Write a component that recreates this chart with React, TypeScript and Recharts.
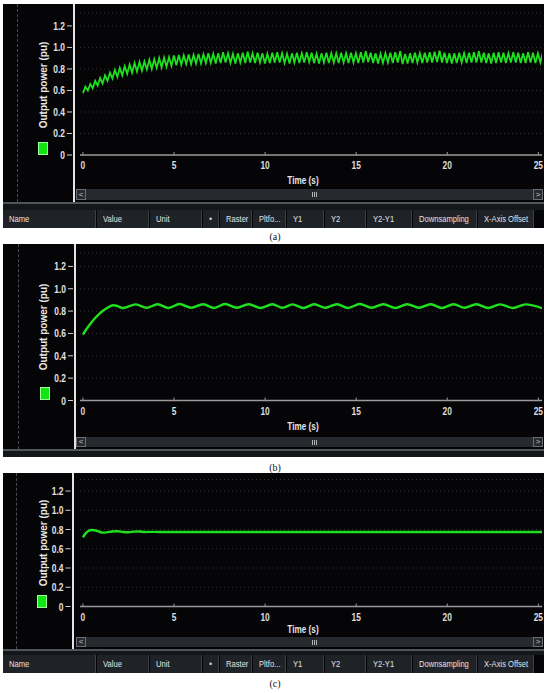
import React from "react";
import { LineChart, Line, XAxis, YAxis, CartesianGrid } from "recharts";

const yTicks = [0, 0.2, 0.4, 0.6, 0.8, 1.0, 1.2];
const xTicks = [0, 5, 10, 15, 20, 25];
const columns = ["Name", "Value", "Unit", "•", "Raster", "Pltfo...", "Y1", "Y2", "Y2-Y1", "Downsampling", "X-Axis Offset"];

// (a) read every 0.135 s, alternating trough / peak of the ripple
const aStep = 0.135;
const aPower = [
  0.575, 0.635, 0.6, 0.66, 0.62, 0.69, 0.645, 0.715, 0.665, 0.74,
  0.69, 0.765, 0.71, 0.79, 0.725, 0.81, 0.74, 0.825, 0.755, 0.84,
  0.765, 0.855, 0.775, 0.865, 0.785, 0.87, 0.795, 0.885, 0.8, 0.89,
  0.81, 0.9, 0.815, 0.905, 0.82, 0.91, 0.83, 0.925, 0.835, 0.93,
  0.84, 0.925, 0.845, 0.935, 0.845, 0.93, 0.85, 0.94, 0.85, 0.935,
  0.855, 0.945, 0.855, 0.94, 0.85, 0.945, 0.855, 0.955, 0.86, 0.945,
  0.855, 0.94, 0.85, 0.945, 0.86, 0.95, 0.855, 0.96, 0.86, 0.945,
  0.855, 0.95, 0.86, 0.945, 0.85, 0.94, 0.855, 0.95, 0.86, 0.955,
  0.86, 0.945, 0.855, 0.94, 0.85, 0.945, 0.86, 0.95, 0.855, 0.945,
  0.86, 0.955, 0.865, 0.95, 0.855, 0.94, 0.85, 0.945, 0.86, 0.95,
  0.855, 0.945, 0.86, 0.945, 0.855, 0.95, 0.86, 0.945, 0.855, 0.95,
  0.86, 0.945, 0.855, 0.955, 0.86, 0.965, 0.865, 0.95, 0.855, 0.945,
  0.85, 0.94, 0.855, 0.945, 0.86, 0.95, 0.855, 0.955, 0.86, 0.965,
  0.845, 0.94, 0.85, 0.945, 0.855, 0.95, 0.86, 0.945, 0.855, 0.95,
  0.86, 0.955, 0.86, 0.96, 0.865, 0.97, 0.86, 0.95, 0.855, 0.945,
  0.85, 0.945, 0.855, 0.95, 0.86, 0.945, 0.855, 0.95, 0.86, 0.955,
  0.86, 0.965, 0.86, 0.95, 0.855, 0.945, 0.85, 0.95, 0.855, 0.955,
  0.86, 0.95, 0.855, 0.945, 0.86, 0.955, 0.86, 0.95, 0.855, 0.945,
  0.855, 0.955, 0.86, 0.95, 0.855, 0.945, 0.86, 0.95
];

// (b) rise, then peaks / troughs of the slow oscillation
const bTime = [
  0, 0.2, 0.4, 0.6, 0.8, 1.0, 1.2, 1.4, 1.65, 1.85,
  2.2, 2.9, 3.5, 4.1, 4.7, 5.3, 5.95, 6.6, 7.2, 7.8,
  8.45, 9.1, 9.75, 10.4, 10.95, 11.5, 12.1, 12.7, 13.3, 13.95,
  14.55, 15.2, 15.85, 16.5, 17.15, 17.8, 18.45, 19.1, 19.7, 20.35,
  20.95, 21.6, 22.25, 22.9, 23.6, 24.3, 25.2
];
const bPower = [
  0.59, 0.64, 0.685, 0.725, 0.76, 0.79, 0.815, 0.835, 0.852, 0.848,
  0.828, 0.86, 0.83, 0.862, 0.828, 0.863, 0.83, 0.862, 0.828, 0.863,
  0.83, 0.862, 0.828, 0.862, 0.83, 0.86, 0.828, 0.862, 0.83, 0.862,
  0.828, 0.863, 0.83, 0.862, 0.828, 0.862, 0.83, 0.862, 0.828, 0.862,
  0.83, 0.862, 0.828, 0.86, 0.828, 0.86, 0.826
];

// (c) small overshoot, then flat
const cTime = [0, 0.15, 0.3, 0.5, 0.7, 0.9, 1.1, 1.3, 1.6, 1.9, 2.2, 2.5, 2.8, 3.1, 3.4, 3.8, 4.2, 5, 10, 15, 20, 25.2];
const cPower = [0.72, 0.76, 0.785, 0.795, 0.79, 0.777, 0.768, 0.77, 0.78, 0.782, 0.775, 0.772, 0.778, 0.779, 0.775, 0.776, 0.775, 0.775, 0.775, 0.775, 0.775, 0.775];

const aData = aPower.map((p, i) => ({ t: i * aStep, p }));
const bData = bTime.map((t, i) => ({ t, p: bPower[i] }));
const cData = cTime.map((t, i) => ({ t, p: cPower[i] }));

const uiFont = "'Liberation Sans', Arial, sans-serif";
const green = "#1fe01f";
const colEdges = [3, 97, 150, 203, 220, 253, 287, 325, 367, 413, 478, 535, 544];

type Spec = {
  top: number;
  bottom: number;
  axisX: number;
  dotX: number;
  plotTop: number;
  zeroY: number;
  scrollTop: number;
  scrollBottom: number;
  header?: number;
  legend: [number, number];
  labelY: number;
  timeY: number;
  captionY: number;
  caption: string;
  lineType: "linear" | "monotone";
  strokeWidth: number;
};

const specA: Spec = {
  top: 4, bottom: 228, axisX: 74, dotX: 17, plotTop: 13, zeroY: 155,
  scrollTop: 189, scrollBottom: 200, header: 210, legend: [38, 142],
  labelY: 85, timeY: 180, captionY: 236, caption: "(a)", lineType: "linear", strokeWidth: 1.8
};
const specB: Spec = {
  top: 244, bottom: 457, axisX: 75, dotX: 18, plotTop: 253, zeroY: 400.5,
  scrollTop: 437, scrollBottom: 447, legend: [40, 387],
  labelY: 327, timeY: 426, captionY: 467, caption: "(b)", lineType: "monotone", strokeWidth: 2.4
};
const specC: Spec = {
  top: 473, bottom: 673, axisX: 72.5, dotX: 16, plotTop: 479.5, zeroY: 606.5,
  scrollTop: 637, scrollBottom: 647, header: 655, legend: [37, 595],
  labelY: 543, timeY: 629, captionY: 683, caption: "(c)", lineType: "monotone", strokeWidth: 2.4
};

const XTick = (props: any) => {
  const { x, y, payload } = props;
  return (
    <g>
      <line x1={x} x2={x} y1={y - 3} y2={y} stroke="#9a9a9a" />
      <text
        transform={`translate(${x},${y + 14}) scale(0.8,1)`}
        textAnchor="middle"
        fill="#dedede"
        fontSize={10.5}
        fontWeight="bold"
        fontFamily={uiFont}
      >
        {payload.value}
      </text>
    </g>
  );
};

const YTick = (props: any) => {
  const { y, payload, axisX } = props;
  const v = payload.value;
  return (
    <g>
      <line x1={axisX - 7} x2={axisX - 2} y1={y} y2={y} stroke="#cfcfcf" />
      <text
        transform={`translate(${axisX - 9},${y + 4}) scale(0.8,1)`}
        textAnchor="end"
        fill="#e2e2e2"
        fontSize={10.5}
        fontWeight="bold"
        fontFamily={uiFont}
      >
        {v === 0 ? "0" : v.toFixed(1)}
      </text>
    </g>
  );
};

const abs = (s: React.CSSProperties): React.CSSProperties => ({ position: "absolute", ...s });

const Narrow = ({ children, origin = "left center", k = 0.82 }: { children: React.ReactNode; origin?: string; k?: number }) => (
  <span style={{ display: "inline-block", transform: `scaleX(${k})`, transformOrigin: origin }}>{children}</span>
);

function Panel({ spec, data }: { spec: Spec; data: { t: number; p: number }[] }) {
  const h = spec.bottom - spec.top;
  const sideH = spec.scrollBottom + 2 - spec.top;
  const bandTop = spec.scrollBottom + 2;
  const sh = spec.scrollBottom - spec.scrollTop;
  return (
    <>
      <div style={abs({ left: 3, top: spec.top, width: 541, height: h, background: "#050507" })} />
      <div style={abs({ left: spec.dotX, top: spec.top, width: 0, height: sideH, borderLeft: "1px dashed #4a4a4a" })} />
      <div style={abs({ left: spec.axisX - 1, top: spec.top, width: 2, height: sideH, background: "#e4e4e4" })} />
      <div
        style={abs({
          left: 43,
          top: spec.labelY,
          transform: "translate(-50%, -50%) rotate(-90deg)",
          whiteSpace: "nowrap",
          color: "#e6e6e6",
          fontFamily: uiFont,
          fontWeight: "bold",
          fontSize: 10
        })}
      >
        Output power (pu)
      </div>
      <div
        style={abs({
          left: spec.legend[0],
          top: spec.legend[1],
          width: 8,
          height: 11,
          background: "#12e612",
          border: "1px solid #9dff9d"
        })}
      />
      <div style={abs({ left: 0, top: spec.top })}>
        <LineChart
          width={550}
          height={h}
          data={data}
          margin={{ top: spec.plotTop - spec.top, right: 8, bottom: spec.bottom - spec.zeroY - 1, left: 79 }}
        >
          <CartesianGrid vertical={false} stroke="#333" strokeDasharray="1 3" />
          <XAxis
            type="number"
            dataKey="t"
            domain={[-0.16, 25.2]}
            ticks={xTicks}
            interval={0}
            height={1}
            tickSize={0}
            tickMargin={0}
            allowDataOverflow
            axisLine={{ stroke: "#9a9a9a", strokeWidth: 1.5 }}
            tickLine={false}
            tick={XTick}
          />
          <YAxis
            type="number"
            domain={[0, 1.32]}
            ticks={yTicks}
            interval={0}
            width={1}
            tickSize={0}
            tickMargin={0}
            allowDataOverflow
            axisLine={false}
            tickLine={false}
            tick={(p: any) => <YTick {...p} axisX={spec.axisX} />}
          />
          <Line
            type={spec.lineType}
            dataKey="p"
            stroke={green}
            strokeWidth={spec.strokeWidth}
            dot={false}
            isAnimationActive={false}
          />
        </LineChart>
      </div>
      <div
        style={abs({
          left: 303,
          top: spec.timeY,
          transform: "translate(-50%, -50%)",
          color: "#e6e6e6",
          fontFamily: uiFont,
          fontWeight: "bold",
          fontSize: 10.5,
          whiteSpace: "nowrap"
        })}
      >
        <Narrow origin="center" k={0.78}>Time (s)</Narrow>
      </div>
      <div style={abs({ left: 76, top: spec.scrollTop, width: 466, height: sh, background: "#262a2f" })} />
      {[76, 533].map((x, i) => (
        <div
          key={x}
          style={abs({
            left: x,
            top: spec.scrollTop,
            width: 8,
            height: sh - 2,
            border: "1px solid #6a6e73",
            color: "#c8c8c8",
            fontSize: 8,
            lineHeight: `${sh - 2}px`,
            textAlign: "center",
            fontFamily: uiFont
          })}
        >
          {i === 0 ? "<" : ">"}
        </div>
      ))}
      {[312, 314, 316].map((x) => (
        <div key={x} style={abs({ left: x, top: spec.scrollTop + sh / 2 - 2.5, width: 1, height: 5, background: "#b4b4b4" })} />
      ))}
      <div style={abs({ left: 3, top: bandTop, width: 541, height: 1.5, background: "#50555b" })} />
      <div
        style={abs({
          left: 3,
          top: bandTop + 1.5,
          width: 541,
          height: (spec.header ?? spec.bottom) - bandTop - 1.5,
          background: "#14171a"
        })}
      />
      {spec.header !== undefined &&
        columns.map((c, i) => (
          <div
            key={c}
            style={abs({
              left: colEdges[i],
              top: spec.header,
              width: colEdges[i + 1] - colEdges[i] - 1,
              height: spec.bottom - (spec.header as number),
              background: "#1f2327",
              borderRight: "1px solid #3c4147",
              color: "#e2e2e2",
              fontFamily: uiFont,
              fontSize: 9.5,
              lineHeight: `${spec.bottom - (spec.header as number)}px`,
              textAlign: c === "•" ? "center" : "left",
              paddingLeft: c === "•" ? 0 : 6,
              boxSizing: "border-box",
              whiteSpace: "nowrap"
            })}
          >
            <Narrow origin={c === "•" ? "center" : "left center"} k={0.8}>{c}</Narrow>
          </div>
        ))}
      <div
        style={abs({
          left: 275,
          top: spec.captionY,
          transform: "translate(-50%, -50%)",
          fontFamily: "'Liberation Serif', 'Times New Roman', serif",
          fontSize: 10,
          color: "#111"
        })}
      >
        {spec.caption}
      </div>
    </>
  );
}

export default function App() {
  return (
    <div style={{ position: "relative", width: 550, height: 693, background: "#fff", overflow: "hidden" }}>
      <style>{"body{margin:0}"}</style>
      <Panel spec={specA} data={aData} />
      <Panel spec={specB} data={bData} />
      <Panel spec={specC} data={cData} />
    </div>
  );
}
